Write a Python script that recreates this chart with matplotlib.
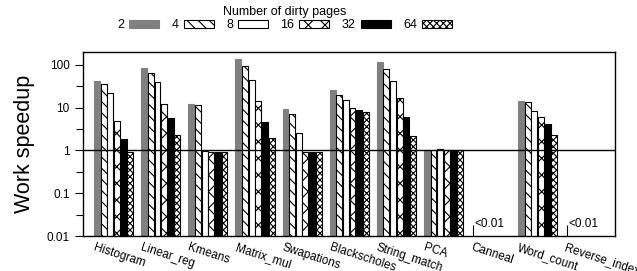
import numpy as np
import matplotlib
matplotlib.use("Agg")
import matplotlib.pyplot as plt
from matplotlib.ticker import FixedLocator, NullFormatter

plt.rcParams["font.family"] = ["Liberation Sans", "DejaVu Sans"]
plt.rcParams["hatch.linewidth"] = 0.8

benchmarks = ["Histogram", "Linear_reg", "Kmeans", "Matrix_mul", "Swapations",
              "Blackscholes", "String_match", "PCA", "Canneal", "Word_count",
              "Reverse_index"]
pages = ["2", "4", "8", "16", "32", "64"]

# speedup per benchmark, one list per number of dirty pages (values < 0.01 are off scale)
sp_2 = [43, 86, 12.3, 138, 9.4, 25.6, 116, 1.05, 0.001, 14.7, 0.001]
sp_4 = [35, 63, 11.3, 93, 7.3, 19.3, 82, 1.05, 0.001, 13.4, 0.001]
sp_8 = [22, 39, 0.98, 45, 2.6, 15.3, 43, 1.07, 0.001, 8.5, 0.001]
sp_16 = [5.0, 12.5, 0.93, 14.7, 0.93, 10.1, 16.7, 1.0, 0.001, 5.9, 0.001]
sp_32 = [1.9, 5.8, 0.93, 4.7, 0.93, 8.7, 6.1, 1.0, 0.001, 4.2, 0.001]
sp_64 = [0.91, 2.3, 0.93, 2.0, 0.93, 8.1, 2.2, 1.0, 0.001, 2.3, 0.001]
series = [sp_2, sp_4, sp_8, sp_16, sp_32, sp_64]

styles = [
    dict(color="#808080", edgecolor="#808080"),
    dict(color="white", edgecolor="black", hatch="\\\\\\"),
    dict(color="white", edgecolor="black"),
    dict(color="white", edgecolor="black", hatch="xx"),
    dict(color="black", edgecolor="black"),
    dict(color="white", edgecolor="black", hatch="xxxxx"),
]


def main() -> None:
    fig = plt.figure(figsize=(6.37, 2.71), dpi=100)
    ax = fig.add_axes([0.130, 0.129, 0.835, 0.679])

    x = np.arange(len(benchmarks))
    step, w = 0.141, 0.125
    for j, (vals, st) in enumerate(zip(series, styles)):
        ax.bar(x + j * step, vals, width=w, align="edge", bottom=0.0001,
               linewidth=0.8, label=pages[j], zorder=2, **st)

    ax.set_yscale("log")
    ax.set_ylim(0.01, 200)
    ax.set_xlim(-0.24, 11.05)
    ax.axhline(1, color="black", linewidth=1.0, zorder=5)

    ax.yaxis.set_major_locator(FixedLocator([0.01, 0.1, 1, 10, 100]))
    ax.set_yticklabels(["0.01", "0.1", "1", "10", "100"])
    ax.yaxis.set_minor_locator(FixedLocator([10 ** (k + 0.5) for k in range(-2, 2)]))
    ax.yaxis.set_minor_formatter(NullFormatter())
    ax.tick_params(axis="y", which="major", length=6, width=0.8, labelsize=8.5)
    ax.tick_params(axis="y", which="minor", length=5, width=0.8)

    ax.set_xticks(x + 0.04)
    ax.set_xticklabels(benchmarks, rotation=-18, ha="left", va="top",
                       rotation_mode="anchor", fontsize=8.5)
    ax.tick_params(axis="x", direction="in", length=8, width=0.8, pad=4)
    ax.set_axisbelow(True)

    for i, name in enumerate(benchmarks):
        if max(s[i] for s in series) < 0.01:
            ax.text(i + 0.07, 0.0135, "<0.01", fontsize=8.5, ha="left", va="bottom")

    for sp in ax.spines.values():
        sp.set_linewidth(1.0)

    ax.set_ylabel("Work speedup", fontsize=15.5, labelpad=8)

    fig.legend(loc="upper center", bbox_to_anchor=(0.447, 1.01), ncol=6,
               frameon=False, title="Number of dirty pages", title_fontsize=9,
               fontsize=9, markerfirst=False, handlelength=2.4, handleheight=0.6,
               handletextpad=0.4, columnspacing=1.0, borderpad=0.2,
               labelspacing=0.1)

    fig.savefig("out.png", dpi=100)


if __name__ == "__main__":
    main()
